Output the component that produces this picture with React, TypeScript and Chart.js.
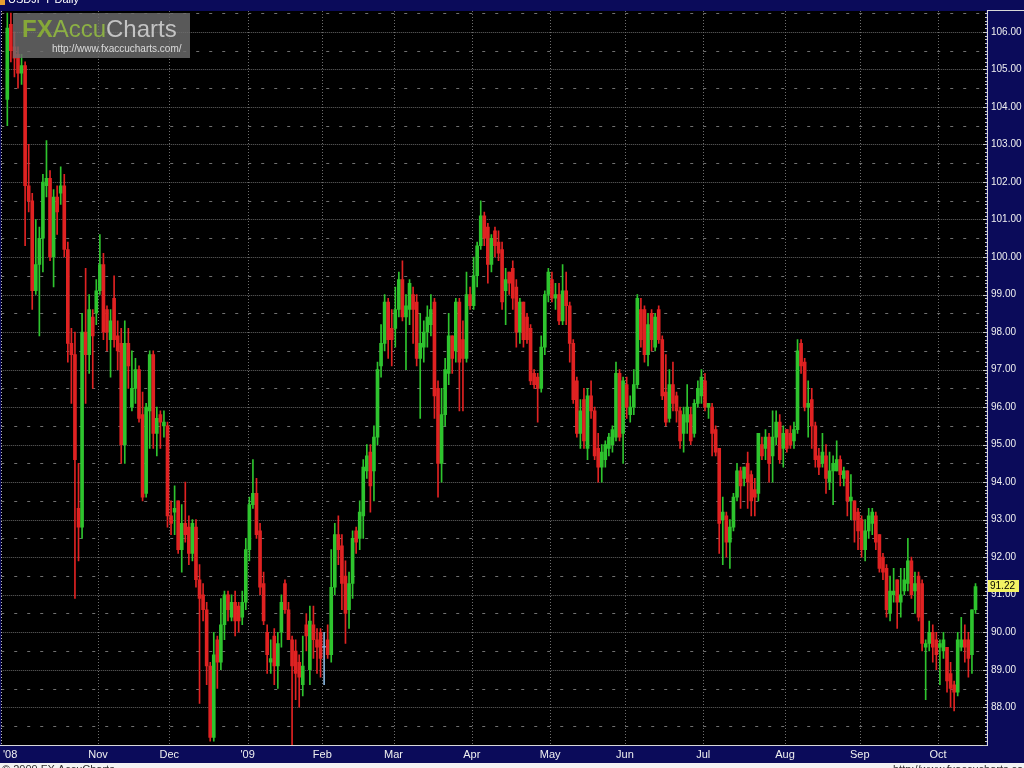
import React, { useEffect, useRef } from 'react';
import { Chart, registerables } from 'chart.js';

Chart.register(...registerables);

// Daily USD/JPY candles, late Sep 2008 – mid Oct 2009
const opens = [
  104.2, 106.2, 105.6, 105.4, 104.9, 105.1, 101.9, 101.5, 99.1, 99.8,
  100.5, 101.9, 102.1, 100.0, 101.6, 101.7, 101.9, 100.2, 97.7, 97.4,
  93.3, 92.8, 98.0, 97.4, 98.4, 98.5, 99.1, 99.8, 98.6, 97.8,
  98.9, 97.9, 97.7, 95.0, 97.7, 96.0, 96.5, 97.0, 95.8, 93.7,
  95.9, 97.4, 95.3, 95.8, 95.5, 95.5, 93.1, 93.2, 93.5, 92.2,
  92.9, 92.8, 92.1, 92.8, 91.4, 91.0, 90.6, 89.1, 87.2, 89.8,
  89.2, 90.2, 91.0, 90.4, 90.8, 90.7, 90.4, 90.8, 92.2, 93.4,
  93.7, 92.7, 91.3, 90.0, 89.2, 89.9, 89.1, 90.0, 91.3, 90.6,
  89.8, 89.5, 89.2, 88.6, 90.2, 89.0, 90.2, 89.8, 90.0, 89.6,
  89.8, 89.4, 91.2, 92.6, 92.3, 91.5, 90.6, 91.3, 92.7, 92.5,
  93.1, 94.3, 94.8, 94.3, 95.2, 97.1, 97.7, 98.8, 98.1, 98.1,
  98.6, 99.4, 98.4, 98.6, 99.0, 98.8, 97.3, 97.6, 98.0, 98.2,
  98.8, 96.5, 94.5, 95.8, 96.9, 97.9, 97.5, 98.8, 97.8, 97.3,
  99.0, 98.7, 99.5, 100.3, 101.1, 100.8, 99.8, 100.7, 100.4, 100.2,
  99.1, 99.6, 99.7, 99.2, 98.0, 98.8, 98.4, 98.1, 96.9, 96.8,
  96.5, 97.6, 99.0, 99.4, 98.9, 99.0, 98.3, 99.1, 98.7, 97.7,
  96.7, 95.3, 96.2, 94.9, 96.3, 95.9, 94.9, 94.4, 94.6, 94.9,
  95.0, 95.2, 96.9, 95.3, 96.6, 95.8, 96.0, 96.6, 98.6, 98.6,
  97.4, 98.5, 97.6, 98.6, 97.8, 96.4, 95.7, 96.6, 96.3, 95.9,
  95.3, 95.6, 95.8, 95.3, 96.1, 96.3, 96.7, 96.0, 96.0, 95.4,
  94.9, 93.0, 93.1, 92.4, 92.8, 93.6, 94.3, 94.1, 94.5, 94.2,
  93.8, 93.7, 95.0, 94.9, 95.2, 94.7, 95.2, 95.6, 94.9, 95.4,
  95.3, 95.1, 95.4, 97.7, 97.2, 96.0, 96.2, 95.5, 94.7, 94.5,
  94.7, 94.0, 94.3, 94.3, 94.6, 94.1, 94.3, 93.5, 93.5, 93.2,
  93.0, 92.2, 92.7, 92.9, 93.1, 92.6, 92.0, 91.7, 90.5, 91.0,
  91.4, 90.8, 91.1, 91.3, 91.9, 91.1, 91.5, 91.3, 89.6, 89.7,
  90.0, 89.8, 89.6, 89.5, 89.6, 88.9, 88.6, 88.4, 89.6, 89.8,
  89.8, 89.4, 90.6,
];

const highs = [
  106.5, 106.5, 106.0, 105.6, 105.4, 105.2, 103.0, 101.7, 101.0, 100.8,
  102.2, 103.1, 102.3, 101.8, 101.9, 102.4, 102.2, 100.4, 98.1, 98.0,
  94.5, 98.5, 99.7, 99.0, 98.6, 99.4, 100.6, 100.1, 98.7, 98.6,
  99.5, 98.3, 98.1, 98.3, 98.1, 97.5, 97.3, 97.1, 96.4, 96.1,
  97.5, 97.5, 96.0, 95.9, 95.9, 95.6, 93.5, 93.9, 93.5, 93.4,
  94.0, 93.1, 93.0, 93.0, 91.8, 91.3, 90.8, 89.2, 90.0, 89.9,
  90.9, 91.1, 91.1, 91.0, 91.1, 90.8, 91.1, 92.5, 93.6, 94.6,
  94.1, 92.9, 91.6, 90.2, 89.8, 90.1, 90.0, 91.0, 91.4, 90.8,
  89.9, 89.8, 89.4, 89.9, 90.5, 90.7, 90.7, 90.1, 90.1, 90.0,
  90.2, 92.2, 92.9, 93.1, 92.6, 91.9, 91.6, 92.7, 92.8, 93.5,
  94.6, 95.0, 95.0, 95.5, 97.2, 98.2, 99.0, 98.9, 98.6, 99.2,
  99.6, 99.9, 99.0, 99.4, 99.2, 99.0, 98.5, 98.3, 98.7, 99.0,
  98.9, 96.7, 96.5, 97.3, 98.5, 97.9, 98.9, 98.9, 98.3, 99.6,
  99.2, 100.0, 100.4, 101.5, 101.2, 100.9, 100.6, 100.8, 100.7, 100.4,
  99.7, 99.6, 99.9, 99.4, 98.9, 98.8, 98.5, 98.2, 97.0, 96.9,
  97.9, 99.1, 99.7, 99.6, 99.3, 99.3, 99.8, 99.6, 98.8, 97.8,
  96.8, 96.2, 96.5, 96.5, 96.7, 96.0, 95.3, 95.0, 95.1, 95.3,
  95.5, 97.2, 97.0, 96.8, 96.8, 96.3, 97.0, 99.0, 98.9, 98.7,
  98.5, 98.6, 98.5, 98.7, 97.9, 97.4, 97.0, 97.2, 96.4, 96.0,
  96.0, 96.6, 96.0, 96.2, 96.7, 97.0, 96.9, 96.1, 96.1, 95.5,
  94.9, 93.6, 93.2, 93.0, 93.7, 94.5, 94.4, 94.4, 94.8, 94.3,
  94.1, 95.3, 95.2, 95.4, 95.3, 95.9, 95.9, 95.8, 95.5, 95.4,
  95.5, 95.6, 97.8, 97.8, 97.3, 96.7, 96.5, 95.6, 94.9, 95.3,
  95.0, 94.8, 94.7, 95.1, 94.7, 94.4, 94.3, 94.2, 93.5, 93.3,
  93.1, 93.0, 93.3, 93.3, 93.2, 92.6, 92.1, 91.8, 91.5, 91.7,
  91.4, 91.7, 91.7, 92.5, 92.0, 91.6, 91.6, 91.4, 89.8, 90.3,
  90.2, 90.0, 89.8, 90.0, 89.6, 89.2, 88.7, 90.0, 90.4, 90.2,
  90.0, 90.6, 91.3,
];

const lows = [
  103.5, 105.2, 104.8, 104.5, 104.6, 100.3, 101.2, 98.6, 99.0, 97.9,
  99.6, 101.6, 99.9, 99.2, 100.6, 101.4, 100.0, 97.2, 96.1, 90.9,
  91.9, 92.5, 96.1, 96.9, 96.5, 98.2, 99.0, 97.8, 97.5, 96.8,
  97.6, 97.0, 94.5, 94.5, 96.5, 95.9, 96.1, 95.6, 93.5, 93.6,
  94.9, 94.9, 94.7, 94.9, 95.2, 92.8, 92.6, 92.6, 92.1, 91.6,
  92.4, 91.8, 91.9, 91.2, 88.1, 90.3, 88.6, 87.1, 87.1, 88.5,
  89.0, 89.8, 90.3, 90.3, 89.9, 90.0, 90.2, 90.6, 91.9, 93.3,
  92.5, 91.0, 90.2, 88.9, 88.9, 88.6, 88.5, 89.6, 90.5, 89.8,
  87.0, 88.2, 88.0, 88.3, 89.5, 88.6, 89.3, 88.9, 88.8, 88.6,
  89.3, 89.2, 91.0, 91.8, 90.6, 89.7, 90.1, 90.9, 92.1, 92.2,
  92.5, 94.1, 93.2, 93.5, 95.0, 96.8, 97.5, 97.3, 97.1, 97.6,
  98.4, 98.3, 97.0, 98.2, 97.7, 97.1, 95.7, 97.2, 97.6, 97.9,
  95.7, 93.6, 94.0, 95.5, 96.6, 96.9, 97.2, 95.9, 95.9, 97.2,
  98.6, 98.6, 99.2, 100.2, 100.3, 99.3, 99.6, 100.0, 99.9, 98.6,
  98.2, 99.0, 98.6, 97.6, 97.7, 97.6, 97.7, 96.6, 96.5, 95.6,
  96.4, 97.4, 98.8, 98.8, 98.6, 98.2, 98.2, 98.2, 97.2, 96.1,
  95.2, 94.9, 94.9, 94.6, 95.7, 94.6, 94.0, 94.0, 94.4, 94.7,
  94.8, 95.1, 95.1, 94.5, 95.7, 95.6, 95.8, 96.5, 97.6, 97.2,
  97.1, 97.5, 97.5, 97.7, 96.2, 95.5, 95.6, 95.9, 95.6, 94.9,
  94.8, 95.3, 95.0, 95.2, 96.0, 96.1, 95.9, 95.7, 94.7, 94.7,
  92.1, 91.8, 92.0, 91.7, 92.7, 93.5, 93.3, 93.9, 93.3, 93.1,
  93.1, 93.5, 94.6, 94.6, 94.0, 94.0, 95.0, 94.5, 94.4, 94.8,
  94.9, 94.9, 95.3, 96.9, 95.9, 95.2, 94.9, 94.4, 94.2, 94.4,
  93.7, 93.8, 93.4, 94.3, 93.9, 93.9, 93.1, 93.0, 92.4, 92.2,
  92.0, 91.9, 92.5, 92.6, 92.2, 91.6, 91.4, 90.4, 90.3, 90.8,
  90.1, 90.4, 91.0, 91.1, 90.9, 90.5, 90.3, 89.5, 88.2, 89.5,
  89.2, 89.0, 88.6, 89.3, 88.4, 88.0, 87.9, 88.3, 89.5, 89.2,
  88.8, 88.9, 90.5,
];

const closes = [
  106.1, 105.5, 105.3, 104.9, 105.1, 101.9, 101.5, 99.1, 99.8, 100.5,
  102.0, 102.1, 100.0, 101.6, 101.2, 101.9, 100.2, 97.7, 97.4, 94.6,
  92.8, 98.0, 97.4, 98.6, 97.9, 99.1, 99.8, 98.0, 98.0, 98.3,
  97.8, 97.5, 95.0, 97.7, 97.1, 96.5, 97.0, 95.7, 93.6, 96.0,
  97.4, 95.3, 95.7, 95.6, 95.6, 93.1, 92.9, 93.3, 92.2, 92.9,
  92.6, 92.1, 92.9, 91.4, 90.9, 90.6, 89.1, 87.2, 89.4, 89.2,
  90.2, 91.0, 90.6, 90.8, 90.3, 90.3, 90.8, 92.2, 93.4, 93.7,
  92.6, 91.2, 90.3, 89.4, 89.3, 89.1, 89.7, 90.8, 90.6, 89.8,
  89.1, 88.9, 88.8, 89.1, 89.9, 90.3, 89.8, 89.6, 89.3, 89.6,
  89.4, 91.2, 92.6, 92.2, 91.3, 90.5, 91.3, 92.5, 92.4, 93.2,
  94.4, 94.7, 93.9, 95.2, 97.0, 97.7, 98.8, 97.8, 97.8, 98.6,
  99.4, 98.4, 98.7, 99.3, 98.6, 97.3, 97.7, 98.0, 98.4, 98.6,
  96.3, 94.5, 95.8, 97.0, 97.9, 97.3, 98.8, 97.2, 97.3, 99.0,
  98.7, 99.5, 100.3, 101.1, 100.5, 99.8, 100.5, 100.3, 100.1, 98.8,
  99.4, 99.3, 98.9, 98.0, 98.8, 97.8, 97.8, 96.7, 96.6, 96.5,
  97.6, 99.0, 99.6, 98.9, 99.0, 98.3, 99.1, 98.7, 97.7, 96.2,
  95.3, 95.9, 95.1, 96.3, 95.9, 94.7, 94.4, 94.8, 95.0, 95.2,
  95.4, 96.9, 95.2, 96.7, 96.0, 96.0, 96.6, 98.9, 97.8, 97.4,
  98.2, 97.8, 98.4, 97.8, 96.3, 95.6, 96.6, 96.1, 95.9, 95.1,
  95.8, 96.0, 95.1, 96.1, 96.5, 96.8, 96.0, 96.1, 95.3, 94.8,
  92.9, 93.2, 92.4, 92.8, 93.6, 94.3, 93.9, 94.4, 94.0, 93.5,
  93.6, 95.3, 94.7, 95.2, 94.5, 95.2, 95.6, 94.6, 95.3, 94.9,
  95.0, 95.4, 97.5, 97.1, 96.0, 96.1, 95.5, 94.6, 94.4, 94.8,
  94.1, 94.3, 94.5, 94.6, 94.2, 94.3, 93.5, 93.6, 93.0, 92.7,
  92.2, 92.7, 93.1, 93.2, 92.4, 91.7, 91.6, 90.6, 91.1, 91.1,
  90.8, 91.0, 91.4, 91.9, 91.0, 91.3, 90.4, 89.7, 89.7, 90.0,
  89.6, 89.4, 89.7, 89.8, 88.7, 88.5, 88.4, 89.8, 89.8, 89.6,
  89.3, 90.6, 91.22,
];

// Month tick labels and where they sit on the candle-index axis
const monthLabels = ["'08", 'Nov', 'Dec', "'09", 'Feb', 'Mar', 'Apr', 'May', 'Jun', 'Jul', 'Aug', 'Sep', 'Oct'];
const monthPositions = [0.8, 25.5, 45.5, 67.5, 88.5, 108.5, 130.5, 152.5, 173.5, 195.5, 218.5, 239.5, 261.5];
const priceTicks = [88, 89, 90, 91, 92, 93, 94, 95, 96, 97, 98, 99, 100, 101, 102, 103, 104, 105, 106];
const lastPrice = 91.22;

const X_MIN = -1.71;
const X_MAX = 274.95;
const Y_MIN = 86.995;
const Y_MAX = 106.556;

const UP = '#2ec42e';
const DOWN = '#e02222';
const DOJI = '#86b4dc';
const NAVY = '#0b0b5a';
const FONT = '"Liberation Sans", Arial, sans-serif';

const decor = {
  id: 'decor',
  beforeDraw(chart: any) {
    const { ctx, chartArea: a } = chart;
    const xs = chart.scales.x;
    const ys = chart.scales.y;
    ctx.save();
    ctx.fillStyle = NAVY;
    ctx.fillRect(0, 0, 1024, 768);
    ctx.fillStyle = '#000000';
    ctx.fillRect(a.left, a.top, a.right - a.left, a.bottom - a.top);
    ctx.fillStyle = '#f3f3f3';
    ctx.fillRect(0, 763, 1024, 5);

    ctx.lineWidth = 1;
    // horizontal grid: fine dots at whole numbers, dashes at halves
    for (let k = 0; k < 40; k++) {
      const v = 87 + k * 0.5;
      if (v > Y_MAX) break;
      const y = Math.round(ys.getPixelForValue(v)) + 0.5;
      const whole = k % 2 === 0;
      ctx.strokeStyle = whole ? '#666666' : '#707070';
      ctx.setLineDash(whole ? [1, 1] : [3, 10]);
      ctx.beginPath();
      ctx.moveTo(a.left, y);
      ctx.lineTo(a.right, y);
      ctx.stroke();
    }
    // vertical month lines
    ctx.strokeStyle = '#6e6e6e';
    ctx.setLineDash([1, 2]);
    for (let k = 1; k < monthPositions.length; k++) {
      const x = Math.round(xs.getPixelForValue(monthPositions[k])) + 0.5;
      ctx.beginPath();
      ctx.moveTo(x, a.top);
      ctx.lineTo(x, a.bottom);
      ctx.stroke();
    }
    // left ruler
    ctx.strokeStyle = '#c0c0c0';
    ctx.setLineDash([1, 2]);
    ctx.beginPath();
    ctx.moveTo(1.5, a.top);
    ctx.lineTo(1.5, a.bottom);
    ctx.stroke();
    ctx.restore();
  },
  afterDraw(chart: any) {
    const { ctx, chartArea: a } = chart;
    const ys = chart.scales.y;
    ctx.save();
    ctx.setLineDash([]);
    ctx.lineWidth = 1;
    // axis frame lines
    ctx.strokeStyle = '#d8d8d8';
    ctx.beginPath();
    ctx.moveTo(a.right + 1.5, a.top - 1);
    ctx.lineTo(a.right + 1.5, a.bottom + 1);
    ctx.moveTo(a.right + 1, a.top - 0.5);
    ctx.lineTo(1024, a.top - 0.5);
    ctx.moveTo(0, a.bottom + 0.5);
    ctx.lineTo(a.right + 2, a.bottom + 0.5);
    ctx.stroke();
    // small ruler ticks on the price axis
    ctx.strokeStyle = '#c8c8c8';
    ctx.beginPath();
    for (let k = 0; k <= 200; k++) {
      const v = 87 + k * 0.1;
      if (v > Y_MAX) break;
      const y = Math.round(ys.getPixelForValue(v)) + 0.5;
      const len = k % 10 === 0 ? 4 : 2;
      ctx.moveTo(a.right + 1 - len, y);
      ctx.lineTo(a.right + 1, y);
    }
    ctx.stroke();

    // current price tag
    const py = ys.getPixelForValue(lastPrice);
    ctx.fillStyle = '#f2f264';
    ctx.fillRect(a.right + 2, Math.round(py) - 6, 31, 12);
    ctx.fillStyle = '#000000';
    ctx.font = `10px ${FONT}`;
    ctx.textBaseline = 'middle';
    ctx.textAlign = 'left';
    ctx.fillText(lastPrice.toFixed(2), a.right + 4, Math.round(py) + 0.5);

    // logo box
    ctx.fillStyle = 'rgba(108,108,108,0.82)';
    ctx.fillRect(13, 13, 177, 45);
    ctx.textBaseline = 'alphabetic';
    ctx.font = `bold 24px ${FONT}`;
    ctx.fillStyle = '#86a838';
    ctx.fillText('FX', 22, 37);
    const fxw = ctx.measureText('FX').width;
    ctx.font = `24px ${FONT}`;
    ctx.fillStyle = '#8cb044';
    ctx.fillText('Accu', 22 + fxw, 37);
    const accw = ctx.measureText('Accu').width;
    ctx.fillStyle = '#c4c4c4';
    ctx.fillText('Charts', 22 + fxw + accw, 37);
    ctx.font = `10px ${FONT}`;
    ctx.fillStyle = '#dcdcdc';
    ctx.fillText('http://www.fxaccucharts.com/', 52, 52);

    // title strip
    ctx.fillStyle = '#e8a030';
    ctx.fillRect(0, 0, 5, 5);
    ctx.fillStyle = '#ffffff';
    ctx.font = `11px ${FONT}`;
    ctx.fillText('USDJPY Daily', 8, 3);

    // footer
    ctx.fillStyle = '#303030';
    ctx.textBaseline = 'top';
    ctx.font = `11px ${FONT}`;
    ctx.fillText('© 2009 FX AccuCharts', 2, 764);
    ctx.fillText('http://www.fxaccucharts.com', 893, 764);
    ctx.restore();
  },
};

export default function App() {
  const ref = useRef<HTMLCanvasElement>(null);

  useEffect(() => {
    document.body.style.margin = '0';
    const canvas = ref.current;
    if (!canvas) return;
    const idx = closes.map((_, i) => i);
    const colors = idx.map((i) =>
      closes[i] > opens[i] ? UP : closes[i] < opens[i] ? DOWN : DOJI
    );
    const wicks = idx.map((i) => ({ x: i, y: [lows[i], highs[i]] }));
    const bodies = idx.map((i) => ({
      x: i,
      y: [Math.min(opens[i], closes[i]), Math.max(opens[i], closes[i])],
    }));

    const chart = new Chart(canvas, {
      type: 'bar',
      data: {
        datasets: [
          {
            data: wicks as any,
            backgroundColor: colors,
            barThickness: 1,
            maxBarThickness: 1,
            grouped: false,
            order: 2,
          } as any,
          {
            data: bodies as any,
            backgroundColor: colors,
            barThickness: 3,
            maxBarThickness: 3,
            minBarLength: 1,
            grouped: false,
            order: 1,
          } as any,
        ],
      },
      options: {
        animation: false,
        responsive: false,
        devicePixelRatio: 1,
        events: [],
        layout: { padding: { top: 6, bottom: 6, left: 0, right: 0 } },
        plugins: { legend: { display: false }, tooltip: { enabled: false } },
        scales: {
          x: {
            type: 'linear',
            position: 'bottom',
            min: X_MIN,
            max: X_MAX,
            offset: false,
            afterBuildTicks: (s: any) => {
              s.ticks = monthPositions.map((v) => ({ value: v }));
            },
            afterFit: (s: any) => {
              s.height = 17;
            },
            ticks: {
              autoSkip: false,
              maxRotation: 0,
              padding: 3,
              color: '#f0f0f0',
              font: { family: FONT, size: 11 },
              callback: (_v: any, i: number) => monthLabels[i],
            },
            grid: { display: false, drawTicks: false },
            border: { display: false },
          },
          y: {
            type: 'linear',
            position: 'right',
            min: Y_MIN,
            max: Y_MAX,
            afterBuildTicks: (s: any) => {
              s.ticks = priceTicks.map((v) => ({ value: v }));
            },
            afterFit: (s: any) => {
              s.width = 38;
            },
            ticks: {
              padding: 5,
              color: '#f0f0f0',
              font: { family: FONT, size: 10 },
              callback: (v: any) => Number(v).toFixed(2),
            },
            grid: { display: false, drawTicks: false },
            border: { display: false },
          },
        } as any,
      },
      plugins: [decor],
    } as any);

    return () => chart.destroy();
  }, []);

  return (
    <div style={{ position: 'absolute', left: 0, top: 0, width: 1024, height: 768 }}>
      <canvas ref={ref} width={1024} height={768} style={{ display: 'block', width: 1024, height: 768 }} />
    </div>
  );
}
